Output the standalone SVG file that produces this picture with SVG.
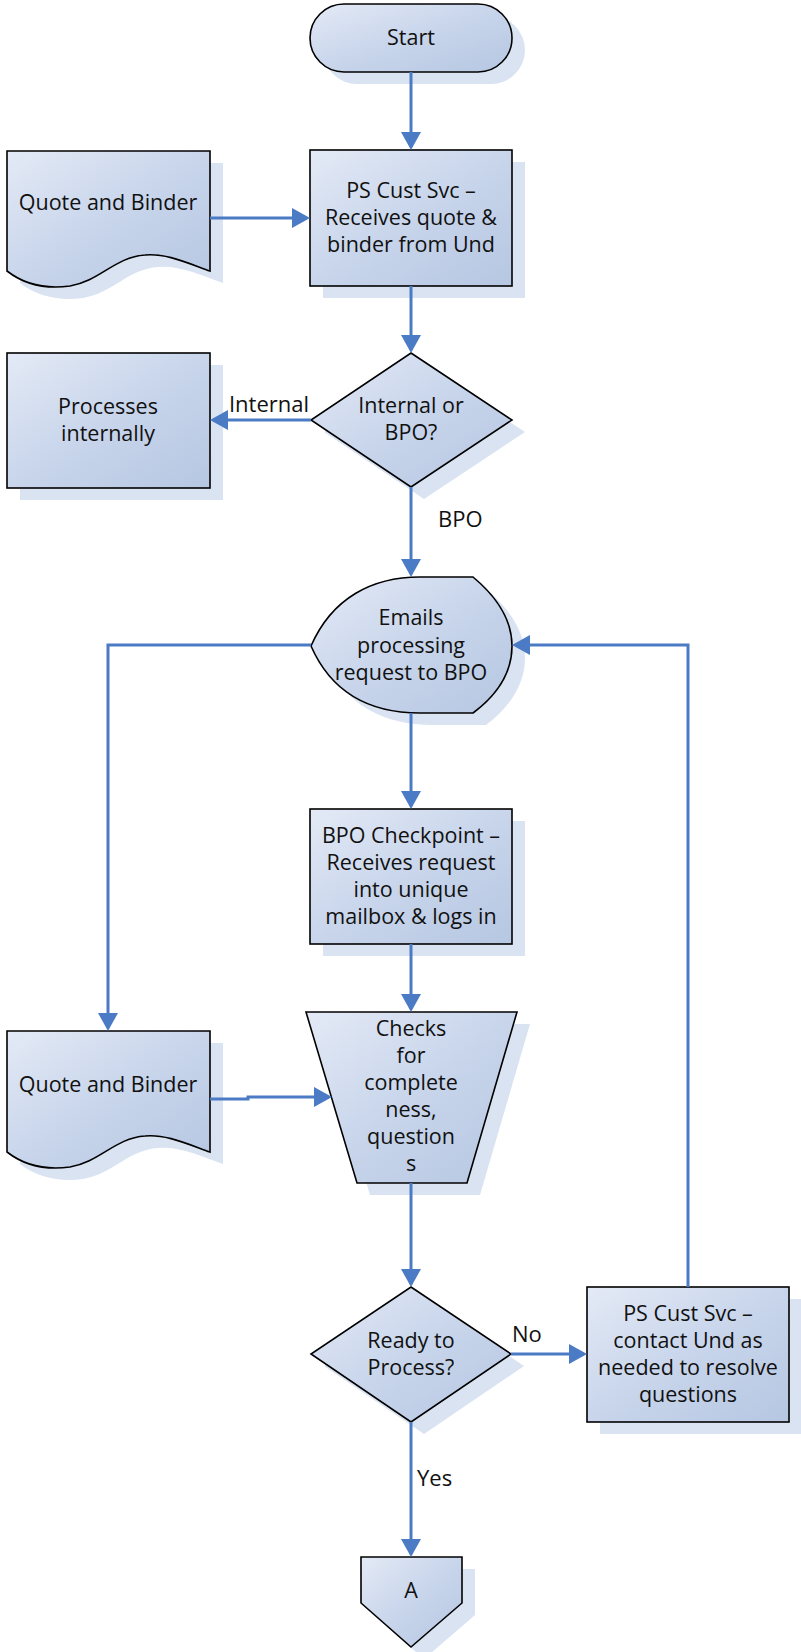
<svg xmlns="http://www.w3.org/2000/svg" width="801" height="1652" viewBox="0 0 801 1652">
  <defs>
    <linearGradient id="fillGrad" x1="0" y1="0" x2="1" y2="1">
      <stop offset="0" stop-color="#e4eaf6"/>
      <stop offset="0.5" stop-color="#c8d5eb"/>
      <stop offset="1" stop-color="#b6c7e2"/>
    </linearGradient>
    <marker id="arrow" markerUnits="userSpaceOnUse" markerWidth="18" markerHeight="20" viewBox="0 0 18 20" refX="15" refY="10" orient="auto">
      <path d="M0,0 L18,10 L0,20 Z" fill="#4a7bc4"/>
    </marker>
  </defs>
  <style>
    .shape { fill: url(#fillGrad); stroke: #000; stroke-width: 1.6; }
    .shadow { fill: #dae3f2; stroke: none; }
    .txt { font-family: "Open Sans", "Liberation Sans", sans-serif; font-size: 21.5px; fill: #111; text-anchor: middle; }
    .lbl { font-family: "Open Sans", "Liberation Sans", sans-serif; font-size: 22px; fill: #111; }
    .conn-arrow { fill: none; stroke: #4a7bc4; stroke-width: 3; marker-end: url(#arrow); }
  </style>
  <rect width="801" height="1652" fill="#fff"/>

  <!-- start terminator -->
  <g id="start">
    <rect class="shadow" x="323" y="16" width="202" height="68" rx="34"/>
    <rect class="shape" x="310" y="4" width="202" height="68" rx="34"/>
    <text class="txt" x="411" y="45">Start</text>
  </g>

  <!-- quote and binder document (top) -->
  <g id="doc-quote-1">
    <path class="shadow" d="M20,163 H223 V283 C198,274 178,265 158,267 C128,269 113,293 83,298 C61,301 38,297 20,283 Z"/>
    <path class="shape" d="M7,151 H210 V271 C185,262 165,253 145,255 C115,257 100,281 70,286 C48,289 25,285 7,271 Z"/>
    <text class="txt" x="108" y="210">Quote and Binder</text>
  </g>

  <!-- customer service receives quote -->
  <g id="ps-receive">
    <rect class="shadow" x="323" y="162" width="202" height="136"/>
    <rect class="shape" x="310" y="150" width="202" height="136"/>
    <text class="txt" x="411" y="198">PS Cust Svc –</text>
    <text class="txt" x="411" y="225">Receives quote &amp;</text>
    <text class="txt" x="411" y="252">binder from Und</text>
  </g>

  <!-- internal or BPO decision -->
  <g id="decision-route">
    <polygon class="shadow" points="424,365 525,432 424,499 324,432"/>
    <polygon class="shape" points="411,353 512,420 411,487 311,420"/>
    <text class="txt" x="411" y="413">Internal or</text>
    <text class="txt" x="411" y="440">BPO?</text>
  </g>

  <!-- processes internally -->
  <g id="process-internal">
    <rect class="shadow" x="20" y="365" width="203" height="135"/>
    <rect class="shape" x="7" y="353" width="203" height="135"/>
    <text class="txt" x="108" y="414">Processes</text>
    <text class="txt" x="108" y="441">internally</text>
  </g>

  <!-- emails request (display shape) -->
  <g id="email-request">
    <path class="shadow" d="M324,658 C345,610 385,589 433,589 H486 C510,609 525,632 525,658 C525,684 510,707 486,725 H433 C385,725 345,706 324,658 Z"/>
    <path class="shape" d="M311,646 C332,598 372,577 420,577 H473 C497,597 512,620 512,646 C512,672 497,695 473,713 H420 C372,713 332,694 311,646 Z"/>
    <text class="txt" x="411" y="625">Emails</text>
    <text class="txt" x="411" y="653">processing</text>
    <text class="txt" x="411" y="680">request to BPO</text>
  </g>

  <!-- BPO checkpoint -->
  <g id="bpo-checkpoint">
    <rect class="shadow" x="323" y="821" width="202" height="135"/>
    <rect class="shape" x="310" y="809" width="202" height="135"/>
    <text class="txt" x="411" y="843">BPO Checkpoint –</text>
    <text class="txt" x="411" y="870">Receives request</text>
    <text class="txt" x="411" y="897">into unique</text>
    <text class="txt" x="411" y="924">mailbox &amp; logs in</text>
  </g>

  <!-- quote and binder document (lower) -->
  <g id="doc-quote-2">
    <path class="shadow" d="M20,1043 H223 V1164 C198,1155 178,1146 158,1148 C128,1150 113,1174 83,1179 C61,1182 38,1178 20,1164 Z"/>
    <path class="shape" d="M7,1031 H210 V1152 C185,1143 165,1134 145,1136 C115,1138 100,1162 70,1167 C48,1170 25,1166 7,1152 Z"/>
    <text class="txt" x="108" y="1092">Quote and Binder</text>
  </g>

  <!-- completeness check (manual operation) -->
  <g id="check-complete">
    <polygon class="shadow" points="319,1024 530,1024 480,1195 370,1195"/>
    <polygon class="shape" points="306,1012 517,1012 467,1183 357,1183"/>
    <text class="txt" x="411" y="1036">Checks</text>
    <text class="txt" x="411" y="1063">for</text>
    <text class="txt" x="411" y="1090">complete</text>
    <text class="txt" x="411" y="1117">ness,</text>
    <text class="txt" x="411" y="1144">question</text>
    <text class="txt" x="411" y="1171">s</text>
  </g>

  <!-- ready to process decision -->
  <g id="decision-ready">
    <polygon class="shadow" points="424,1299 524,1366 424,1434 324,1366"/>
    <polygon class="shape" points="411,1287 511,1354 411,1422 311,1354"/>
    <text class="txt" x="411" y="1348">Ready to</text>
    <text class="txt" x="411" y="1375">Process?</text>
  </g>

  <!-- customer service resolves questions -->
  <g id="ps-resolve">
    <rect class="shadow" x="600" y="1299" width="202" height="135"/>
    <rect class="shape" x="587" y="1287" width="202" height="135"/>
    <text class="txt" x="688" y="1321">PS Cust Svc –</text>
    <text class="txt" x="688" y="1348">contact Und as</text>
    <text class="txt" x="688" y="1375">needed to resolve</text>
    <text class="txt" x="688" y="1402">questions</text>
  </g>

  <!-- off-page connector A -->
  <g id="offpage-a">
    <polygon class="shadow" points="374,1569 475,1569 475,1615 424,1659 374,1615"/>
    <polygon class="shape" points="361,1557 462,1557 462,1603 411,1647 361,1603"/>
    <text class="txt" x="411" y="1598">A</text>
  </g>

  <!-- connectors, drawn over the node shadows -->
  <g id="connectors">
    <line class="conn-arrow" x1="411" y1="72" x2="411" y2="147"/>
    <line class="conn-arrow" x1="210" y1="218" x2="307" y2="218"/>
    <line class="conn-arrow" x1="411" y1="286" x2="411" y2="350"/>
    <line class="conn-arrow" x1="311" y1="420" x2="213" y2="420"/>
    <text class="lbl" x="309" y="412" text-anchor="end">Internal</text>
    <line class="conn-arrow" x1="411" y1="487" x2="411" y2="574"/>
    <text class="lbl" x="438" y="527">BPO</text>
    <polyline class="conn-arrow" points="311,645 108,645 108,1028"/>
    <line class="conn-arrow" x1="411" y1="713" x2="411" y2="806"/>
    <line class="conn-arrow" x1="411" y1="944" x2="411" y2="1009"/>
    <polyline class="conn-arrow" points="210,1099 248,1099 248,1097 329,1097"/>
    <line class="conn-arrow" x1="411" y1="1183" x2="411" y2="1284"/>
    <line class="conn-arrow" x1="511" y1="1354" x2="584" y2="1354"/>
    <text class="lbl" x="512" y="1342">No</text>
    <polyline class="conn-arrow" points="688,1287 688,645 515,645"/>
    <line class="conn-arrow" x1="411" y1="1422" x2="411" y2="1554"/>
    <text class="lbl" x="417" y="1486">Yes</text>
  </g>
</svg>
